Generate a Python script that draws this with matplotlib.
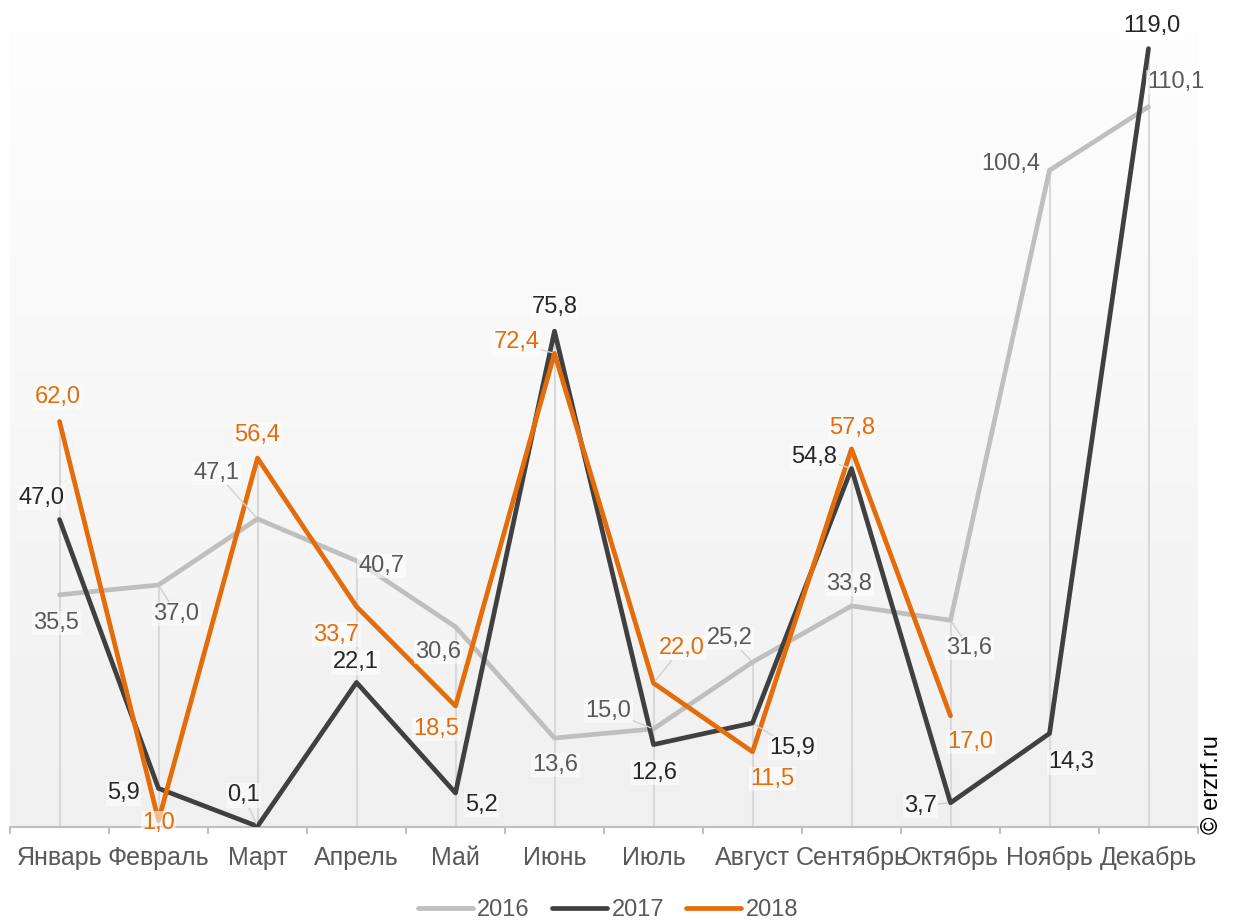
import numpy as np
import matplotlib
matplotlib.use("Agg")
import matplotlib.pyplot as plt
from matplotlib.colors import LinearSegmentedColormap

plt.rcParams["font.family"] = ["Liberation Sans", "DejaVu Sans"]

months = ["Январь", "Февраль", "Март", "Апрель", "Май", "Июнь",
          "Июль", "Август", "Сентябрь", "Октябрь", "Ноябрь", "Декабрь"]
years = ["2016", "2017", "2018"]
vals_2016 = [35.5, 37.0, 47.1, 40.7, 30.6, 13.6, 15.0, 25.2, 33.8, 31.6, 100.4, 110.1]
vals_2017 = [47.0, 5.9, 0.1, 22.1, 5.2, 75.8, 12.6, 15.9, 54.8, 3.7, 14.3, 119.0]
vals_2018 = [62.0, 1.0, 56.4, 33.7, 18.5, 72.4, 22.0, 11.5, 57.8, 17.0]

line_colors = ["#bfbfbf", "#404040", "#e46c0a"]
label_colors = ["#595959", "#262626", "#e46c0a"]

# label placement: pixel offsets from the point (x right, y up)
label_offsets = [
    [(-3, -28), (18, -29), (-41, 46), (25, -5), (-17, -25), (1, -27),
     (-45, 18), (-23, 24), (-2, 22), (19, -28), (-39, 6), (27, 25)],
    [(-18, 22), (-35, -5), (-14, 31), (-1, 20), (26, -12), (0, 24),
     (1, -28), (40, -25), (-37, 12), (-30, -3), (22, -29), (3, 23)],
    [(-2, 24), (0, -3), (0, 23), (-20, -28), (-19, -23), (-38, 11),
     (28, 35), (20, -27), (1, 21), (20, -26)],
]
# labels that get a thin leader line back to their point
leaders = {(0, 2), (0, 6), (0, 7), (0, 1), (0, 9), (1, 2), (1, 7),
           (1, 9), (1, 8), (2, 5), (2, 6)}

series = [vals_2016, vals_2017, vals_2018]
x = np.arange(len(months))

fig = plt.figure(figsize=(12.36, 9.22), dpi=100)
ax = fig.add_axes([10 / 1236, 1 - 827 / 922, 1188 / 1236, 798 / 922])
ax.set_xlim(-0.5, 11.5)
ax.set_ylim(0, 122)

# soft vertical gradient in the plot area
grad = LinearSegmentedColormap.from_list("bg", ["#f0f0f0", "#fefefe"])
ax.imshow(np.linspace(0, 1, 256).reshape(-1, 1), cmap=grad, aspect="auto",
          extent=(-0.5, 11.5, 0, 122), origin="lower", zorder=0)

# drop lines from the highest point of each month
tops = [max(s[i] for s in series if i < len(s)) for i in x]
ax.vlines(x, 0, tops, color="#d9d9d9", lw=1.5, zorder=1)

for k, (vals, name) in enumerate(zip(series, years)):
    xs = x[:len(vals)]
    ax.plot(xs, vals, color=line_colors[k], lw=3.4, solid_capstyle="round",
            solid_joinstyle="round", label=name, zorder=2 + k)

for k, vals in enumerate(series):
    for i, v in enumerate(vals):
        dx, dy = label_offsets[k][i]
        arrow = None
        if (k, i) in leaders:
            arrow = dict(arrowstyle="-", color="#d0d0d0", lw=1,
                         shrinkA=0, shrinkB=2)
        ax.annotate(f"{v:.1f}".replace(".", ","), (i, v),
                    xytext=(dx, dy), textcoords="offset pixels",
                    ha="center", va="center", fontsize=17,
                    color=label_colors[k], zorder=6,
                    bbox=dict(boxstyle="square,pad=0.05", fc="white",
                              ec="none", alpha=0.55),
                    arrowprops=arrow)

for side in ["top", "right", "left"]:
    ax.spines[side].set_visible(False)
ax.spines["bottom"].set_color("#bfbfbf")
ax.spines["bottom"].set_linewidth(1.5)
ax.set_yticks([])
ax.set_xticks(x)
ax.set_xticklabels(months, fontsize=18, color="#595959")
ax.set_xticks(np.arange(-0.5, 12, 1), minor=True)
ax.tick_params(axis="x", which="major", length=0, pad=14)
ax.tick_params(axis="x", which="minor", length=5, width=1.5, color="#bfbfbf")

fig.legend(loc="center", bbox_to_anchor=(608 / 1236, 1 - 910 / 922),
           ncol=3, frameon=False, fontsize=17, handlelength=2.33,
           handletextpad=0.2, columnspacing=0.93, labelcolor="#595959")

fig.text(1212 / 1236, 1 - 785 / 922, "© erzrf.ru", rotation=90,
         ha="center", va="center", fontsize=17, color="#000000")

fig.savefig("out.png", dpi=100)
